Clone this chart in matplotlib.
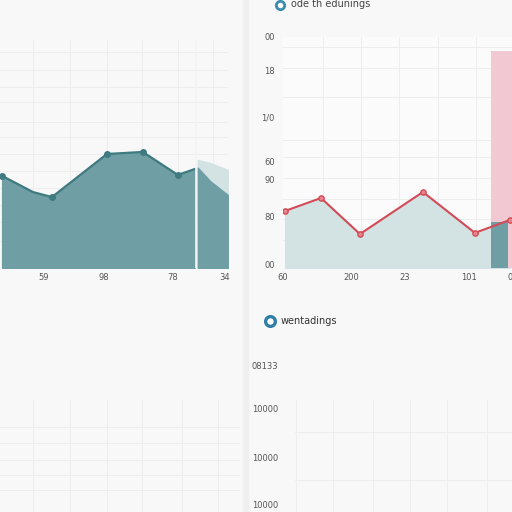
import matplotlib
matplotlib.use("Agg")
import matplotlib.pyplot as plt

# ---- data ----
# top-left panel (teal area)
tl_x = [0.6, 9.4, 14.8, 30.5, 40.7, 50.7, 55.5]
tl_y = [40.4, 33.3, 31.1, 50.0, 50.9, 40.8, 43.4]
tl_marker_idx = [0, 2, 3, 4, 5]
tl_fore_x = [56.4, 60.0, 65.0]
tl_fore_hi = [47.4, 46.0, 43.0]
tl_fore_lo = [44.0, 38.0, 32.0]
tl_ticks = [12.3, 29.6, 49.3, 64.1]
tl_ticklabels = ["59", "98", "78", "34"]

# top-right panel (red line)
tr_x = [0.9, 16.6, 33.6, 61.1, 83.8, 99.1]
tr_y = [24.7, 30.3, 14.7, 32.9, 15.2, 20.8]
tr_bar_x = 90.8
tr_bar_w = 9.2
tr_bar_pink = 93.9
tr_bar_teal = 19.9
tr_xticks = [0, 30, 53, 81, 99]
tr_xticklabels = ["60", "200", "23", "101", "0"]
tr_yticks = [100, 85.7, 65.4, 45.9, 38.1, 22.5, 1.3]
tr_yticklabels = ["00", "18", "1/0", "60", "90", "80", "00"]
tr_title = "ode th edunings"

# bottom-right panel
br_title = "wentadings"
br_yticks = [88, 61.7, 32.9, 4.2]
br_yticklabels = ["08133", "10000", "10000", "10000"]

BG = "#f8f8f8"
TEAL = "#6f9fa4"
TEAL_LINE = "#3e7a80"
LIGHT = "#d3e2e3"
RED = "#d24b57"
PINK = "#f2c9d2"
TXT = "#555555"
GRID = "#ededed"

fig = plt.figure(figsize=(5.12, 5.12), dpi=100, facecolor=BG)

def rect(l, t, r, b):
    return [l / 512, 1 - b / 512, (r - l) / 512, (b - t) / 512]

def clean(ax, gx, gy):
    ax.set_facecolor(BG)
    for s in ax.spines.values():
        s.set_visible(False)
    ax.tick_params(which="both", length=0, labelsize=6, colors=TXT)
    ax.set_xticks(gx, minor=True)
    ax.set_yticks(gy, minor=True)
    ax.grid(True, which="minor", color=GRID, lw=0.7)
    ax.grid(False, which="major")
    ax.set_axisbelow(True)

# separator band
fig.add_artist(plt.Rectangle((243 / 512, 0), 5 / 512, 1, transform=fig.transFigure,
                             color="#efefef", zorder=0))

# ---- top-left ----
ax1 = fig.add_axes(rect(0, 40, 228, 268))
ax1.set_xlim(0, 65)
ax1.set_ylim(0, 100)
clean(ax1, [9.4, 19.9, 30.5, 40.5, 50.7, 60.7],
      [12, 20, 27.5, 35, 42.5, 50, 57.5, 64, 72.8, 79.4, 86.8, 94.7])
ax1.fill_between(tl_fore_x, 0, tl_fore_hi, color=LIGHT, zorder=2)
ax1.fill_between(tl_fore_x, 0, tl_fore_lo, color=TEAL, zorder=3)
ax1.fill_between(tl_x, 0, tl_y, color=TEAL, zorder=3)
ax1.plot(tl_x, tl_y, color=TEAL_LINE, lw=1.6, zorder=4)
ax1.plot([tl_x[i] for i in tl_marker_idx], [tl_y[i] for i in tl_marker_idx],
         "o", color=TEAL_LINE, ms=4, zorder=5)
ax1.axvline(55.9, color="#f4f4f4", lw=1.2, zorder=6)
ax1.set_xticks(tl_ticks)
ax1.set_xticklabels(tl_ticklabels)
ax1.set_yticks([])

# ---- top-right ----
ax2 = fig.add_axes(rect(283, 37, 512, 268))
ax2.set_xlim(0, 100)
ax2.set_ylim(0, 100)
clean(ax2, [17.5, 34, 50.6, 67.7, 84.3],
      [95.7, 86.6, 74, 65.4, 55.4, 48, 39, 30, 21, 12])
ax2.set_facecolor("#fbfbfb")
ax2.fill_between(tr_x, 0, tr_y, color=LIGHT, zorder=2)
ax2.bar([tr_bar_x], [tr_bar_pink], width=tr_bar_w, align="edge", color=PINK, zorder=2)
ax2.bar([tr_bar_x], [tr_bar_teal], width=tr_bar_w * 0.8, align="edge", color=TEAL, zorder=3)
ax2.plot(tr_x, tr_y, color=RED, lw=1.5, zorder=4)
ax2.plot(tr_x, tr_y, "o", color=RED, mfc="#e8858d", ms=3.8, zorder=5)
ax2.set_xticks(tr_xticks)
ax2.set_xticklabels(tr_xticklabels)
ax2.set_yticks(tr_yticks)
ax2.set_yticklabels(tr_yticklabels)
ax2.tick_params(axis="y", pad=6)
fig.add_artist(plt.Line2D([280 / 512], [1 - 5 / 512], marker="o", ms=6, mfc="white",
                          mec="#3a8db0", mew=2, transform=fig.transFigure))
fig.text(291 / 512, 1 - 4 / 512, tr_title, color="#444444", fontsize=7, va="center")

# ---- bottom-left ----
ax3 = fig.add_axes(rect(0, 400, 240, 512))
ax3.set_xlim(0, 240)
ax3.set_ylim(0, 112)
clean(ax3, [33, 70, 107, 142, 182, 218], [22, 37, 52, 69, 85])
ax3.set_xticks([])
ax3.set_yticks([])

# ---- bottom-right ----
ax4 = fig.add_axes(rect(295, 345, 512, 512))
ax4.set_xlim(0, 100)
ax4.set_ylim(0, 100)
ax4.set_xticks([])
ax4.set_yticks(br_yticks)
ax4.set_yticklabels(br_yticklabels)
ax4.tick_params(axis="y", pad=12)
ax4b = fig.add_axes(rect(295, 400, 512, 512))
ax4b.set_xlim(295, 512)
ax4b.set_ylim(0, 112)
clean(ax4b, [296, 333, 373, 410, 447, 487], [32, 80])
ax4b.set_xticks([])
ax4b.set_yticks([])
ax4b.patch.set_alpha(0)
for s in ax4.spines.values():
    s.set_visible(False)
ax4.set_facecolor(BG)
ax4.tick_params(length=0, labelsize=6, colors=TXT)
fig.add_artist(plt.Line2D([270 / 512], [1 - 321 / 512], marker="o", ms=7, mfc="white",
                          mec="#2f7fa6", mew=2.4, transform=fig.transFigure))
fig.text(281 / 512, 1 - 321 / 512, br_title, color="#333333", fontsize=7, va="center")

fig.savefig("out.png", dpi=100, facecolor=BG)
